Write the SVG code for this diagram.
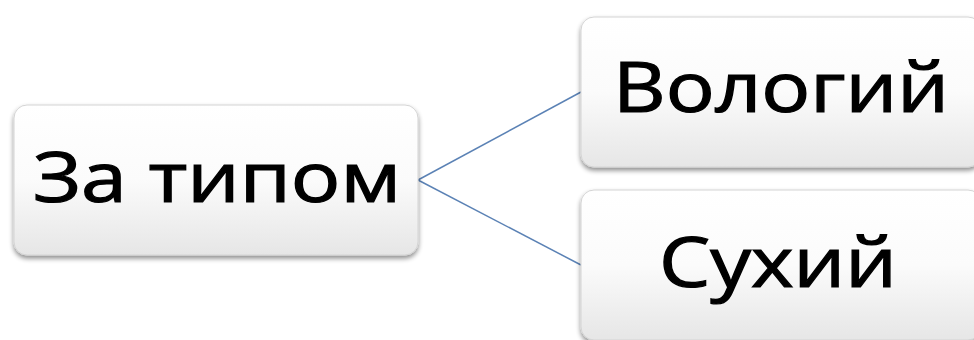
<svg xmlns="http://www.w3.org/2000/svg" width="974" height="340" viewBox="0 0 974 340">
<style>
.box{fill:url(#g);stroke:#d4d4d4;stroke-width:1;filter:url(#sh)}
.t{font-family:"Open Sans","Noto Sans","DejaVu Sans",sans-serif;font-size:69px;fill:#000;stroke:#000;stroke-width:1.2;text-anchor:middle}
.c{stroke:#5b82b5;stroke-width:1.5;fill:none}
</style>
<defs>
<linearGradient id="g" x1="0" y1="0" x2="0" y2="1">
<stop offset="0" stop-color="#ffffff"/>
<stop offset="0.5" stop-color="#fbfbfb"/>
<stop offset="1" stop-color="#e6e6e6"/>
</linearGradient>
<filter id="sh" x="-10%" y="-10%" width="120%" height="130%">
<feGaussianBlur in="SourceAlpha" stdDeviation="2.5"/>
<feOffset dx="0" dy="3" result="b"/>
<feComponentTransfer><feFuncA type="linear" slope="0.45"/></feComponentTransfer>
<feMerge><feMergeNode/><feMergeNode in="SourceGraphic"/></feMerge>
</filter>
</defs>
<rect width="974" height="340" fill="#fff"/>
<g id="connectors">
<line class="c" x1="418" y1="180" x2="581" y2="92"/>
<line class="c" x1="418" y1="180" x2="581" y2="265"/>
</g>
<g id="node-type">
<rect class="box" x="14" y="105" width="404" height="150" rx="13"/>
<text class="t" x="217" y="202" textLength="368" lengthAdjust="spacingAndGlyphs">За типом</text>
</g>
<g id="node-wet">
<rect class="box" x="581" y="17" width="400" height="150" rx="13"/>
<text class="t" x="781" y="112" textLength="336" lengthAdjust="spacingAndGlyphs">Вологий</text>
</g>
<g id="node-dry">
<rect class="box" x="581" y="190" width="400" height="150" rx="13"/>
<text class="t" x="778" y="287" textLength="238" lengthAdjust="spacingAndGlyphs">Сухий</text>
</g>
</svg>
